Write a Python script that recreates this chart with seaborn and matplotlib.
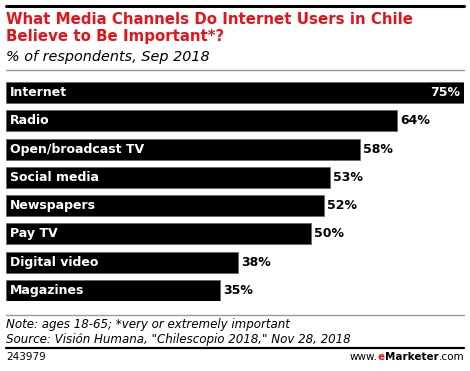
import matplotlib
matplotlib.use("Agg")
import matplotlib.pyplot as plt
import seaborn as sns
import pandas as pd

categories = ["Internet", "Radio", "Open/broadcast TV", "Social media",
              "Newspapers", "Pay TV", "Digital video", "Magazines"]
values = [75, 64, 58, 53, 52, 50, 38, 35]
value_labels = ["75%", "64%", "58%", "53%", "52%", "50%", "38%", "35%"]

title = "What Media Channels Do Internet Users in Chile\nBelieve to Be Important*?"
subtitle = "% of respondents, Sep 2018"
note = "Note: ages 18-65; *very or extremely important"
source = 'Source: Visión Humana, "Chilescopio 2018," Nov 28, 2018'
chart_id = "243979"

sns.set_theme(style="white")
plt.rcParams['font.family'] = ['DejaVu Sans']

W, H = 470, 371
fig = plt.figure(figsize=(W / 100, H / 100), dpi=100)

def fx(px):
    return px / W

def fy(py):
    return 1 - py / H

# axes: x from 6 to 464 px, y from 82 to 301 px
ax = fig.add_axes([fx(6), fy(301), fx(464) - fx(6), fy(82) - fy(301)])
df = pd.DataFrame({"category": categories, "value": values})
sns.barplot(data=df, x="value", y="category", orient="h", color="black",
            width=0.75, ax=ax, saturation=1, edgecolor="#666666", linewidth=0.6)
ax.set_xlim(0, 75)
ax.set_ylim(len(categories) - 1 + 0.375, -0.375)
ax.axis("off")

for i, (c, v, lab) in enumerate(zip(categories, values, value_labels)):
    ax.text(0.6, i, c, color="white", fontweight="bold", fontsize=9,
            va="center", ha="left")
    if v >= 70:
        ax.text(v - 0.6, i, lab, color="white", fontweight="bold", fontsize=9,
                va="center", ha="right")
    else:
        ax.text(v + 0.5, i, lab, color="black", fontweight="bold", fontsize=9,
                va="center", ha="left")

# decorations
fig.add_artist(plt.Line2D([fx(6), fx(464)], [fy(6), fy(6)], color="black", lw=2.2))
fig.add_artist(plt.Line2D([fx(6), fx(464)], [fy(70), fy(70)], color="#999999", lw=1))
fig.add_artist(plt.Line2D([fx(6), fx(464)], [fy(315), fy(315)], color="#999999", lw=1))
fig.add_artist(plt.Line2D([fx(6), fx(464)], [fy(348), fy(348)], color="black", lw=1.6))

fig.text(fx(6), fy(12), title, color="#e5141b", fontweight="bold", fontsize=10.8,
         va="top", ha="left", linespacing=1.2)
fig.text(fx(6), fy(50), subtitle, color="black", style="italic", fontsize=10.4,
         va="top", ha="left")
fig.text(fx(6), fy(318), note + "\n" + source, color="black", style="italic",
         fontsize=8.6, va="top", ha="left", linespacing=1.15)
fig.text(fx(6), fy(352), chart_id, color="black", fontsize=7.5, va="top", ha="left")
# eMarketer logo text
t1 = fig.text(fx(464), fy(352), ".com", color="black", fontsize=7.5, va="top", ha="right")
fig.canvas.draw()
r = fig.canvas.get_renderer()
bb1 = t1.get_window_extent(r)
t2 = fig.text(bb1.x0 / W, fy(352), "Marketer", color="black", fontweight="bold",
              fontsize=7.5, va="top", ha="right")
bb2 = t2.get_window_extent(r)
t3 = fig.text(bb2.x0 / W, fy(352), "e", color="#e5141b", fontweight="bold",
              fontsize=7.5, va="top", ha="right")
bb3 = t3.get_window_extent(r)
fig.text(bb3.x0 / W, fy(352), "www.", color="black", fontsize=7.5, va="top", ha="right")

fig.savefig("out.png", dpi=100)
